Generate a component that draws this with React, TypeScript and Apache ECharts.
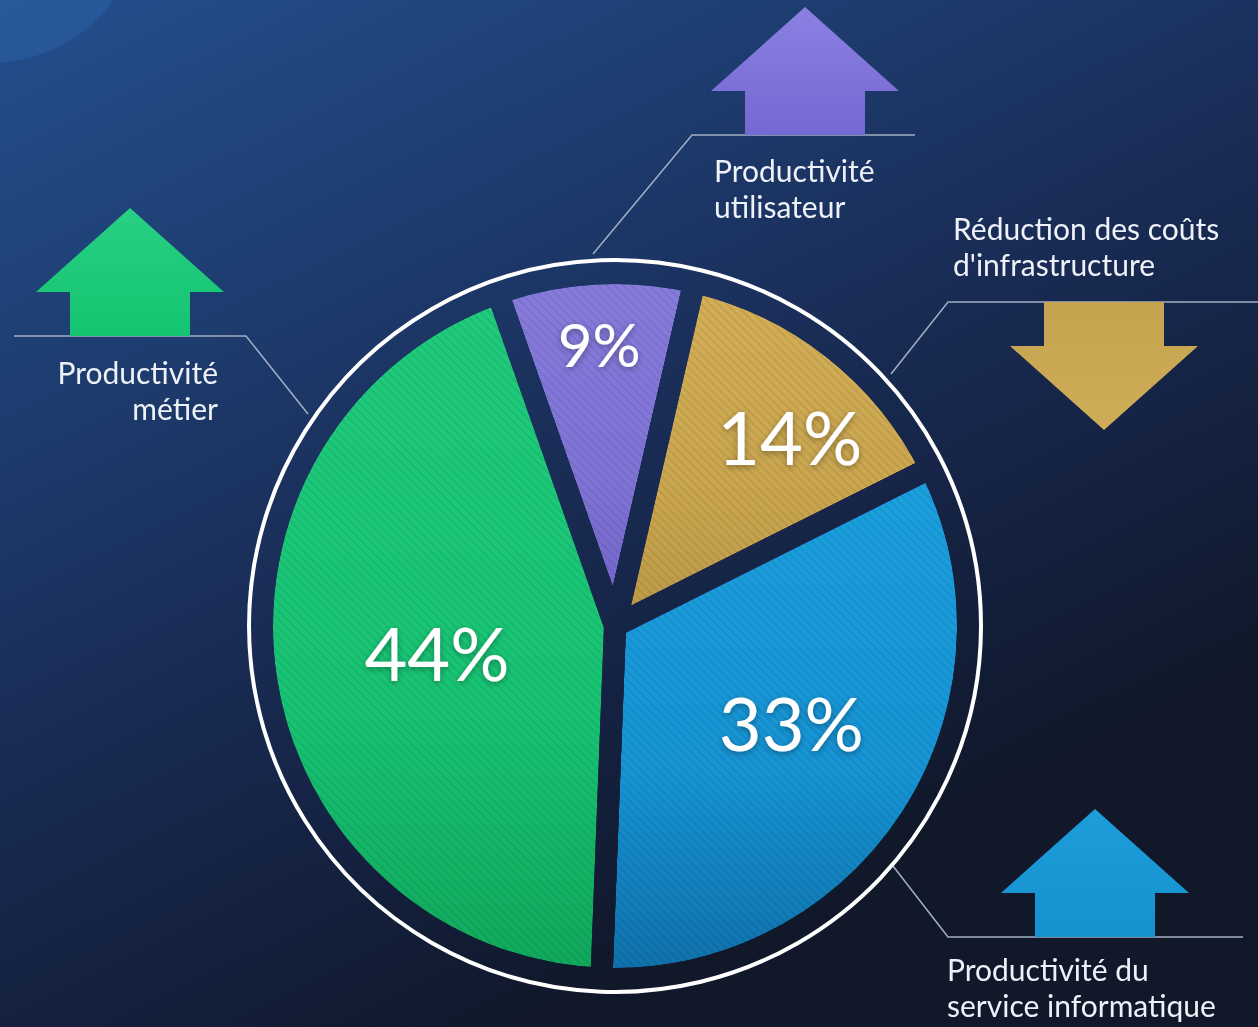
import React, { useEffect, useRef } from 'react';
import * as echarts from 'echarts';

// ---- data ----
const categories = [
  'Productivité utilisateur',
  "Réduction des coûts d'infrastructure",
  'Productivité du service informatique',
  'Productivité métier',
];
const values = [9, 14, 33, 44];
const outsideLabels = [
  'Productivité\nutilisateur',
  "Réduction des coûts\nd'infrastructure",
  'Productivité du\nservice informatique',
  'Productivité\nmétier',
];
const trends = ['up', 'down', 'up', 'up'];

// ---- layout / style ----
const W = 1258;
const H = 1027;
const CX = 615;
const CY = 626;
const R = 353;
const GAP = 22;
const START_FROM_TOP = -19.4; // degrees, clockwise from 12 o'clock
const LABEL_R = [0.8, 0.73, 0.57, 0.51];
const LABEL_ANGLE_SHIFT = [0, 4.5, -4, 0];
const LABEL_SIZE = [60, 74, 74, 74];
const sliceTop = ['#877cdc', '#d4af57', '#1ca0e0', '#20cb7d'];
const sliceMid = ['#7f73d6', '#caa64f', '#1694d4', '#18c474'];
const sliceBottom = ['#7064c8', '#bc9946', '#0f70aa', '#10a85c'];
const arrowTop = ['#8b80e2', '#cfac57', '#1d9dda', '#28d085'];
const arrowBottom = ['#7468d2', '#c6a34e', '#1592d0', '#14c46f'];
const bgStops = [
  { offset: 0, color: '#234f8e' },
  { offset: 0.35, color: '#1d3b6d' },
  { offset: 0.55, color: '#1a2e59' },
  { offset: 0.8, color: '#142140' },
  { offset: 1, color: '#10182a' },
];
const LINE_COLOR = '#a3afc5';
const TEXT_COLOR = '#eef2f8';
const FONT = 'Lato, "Noto Sans", sans-serif';
const OUT_FONT_SIZE = 30;
const OUT_LINE_H = 36;

// label block positions (decoration)
const textPos: Array<{ x: number; y: number; align: string }> = [
  { x: 714, y: 152, align: 'left' },
  { x: 953, y: 210, align: 'left' },
  { x: 947, y: 951, align: 'left' },
  { x: 218, y: 354, align: 'right' },
];
const leaderLines: number[][][] = [
  [[915, 135], [692, 135], [593, 254]],
  [[1258, 302], [948, 302], [891, 374]],
  [[1243, 937], [948, 937], [893, 866]],
  [[14, 336], [246, 336], [308, 414]],
];
// arrow: center x, y of the flat shaft end (on the leader line)
const arrowPos = [
  { cx: 805, y: 135 },
  { cx: 1104, y: 302 },
  { cx: 1095, y: 937 },
  { cx: 130, y: 336 },
];

function bgGrad() {
  return new echarts.graphic.LinearGradient(0, 0, 503, 1027, bgStops, true);
}

function arrowPoints(cx: number, y: number, dir: string) {
  const s = dir === 'up' ? -1 : 1;
  const sw = 60;
  const hw = 94;
  const shaft = 44;
  const head = 84;
  return [
    [cx - sw, y],
    [cx - sw, y + s * shaft],
    [cx - hw, y + s * shaft],
    [cx, y + s * (shaft + head)],
    [cx + hw, y + s * shaft],
    [cx + sw, y + s * shaft],
    [cx + sw, y],
  ];
}

export default function App() {
  const ref = useRef<HTMLDivElement>(null);
  useEffect(() => {
    if (!ref.current) return;
    const chart = echarts.init(ref.current, undefined, { renderer: 'svg' });
    const total = values.reduce((a, b) => a + b, 0);
    const midAngles: number[] = [];
    let acc = START_FROM_TOP;
    values.forEach((v) => {
      const span = (v / total) * 360;
      midAngles.push(acc + span / 2);
      acc += span;
    });

    const graphics: any[] = [
      {
        type: 'rect',
        z: 0,
        silent: true,
        shape: { x: 0, y: 0, width: W, height: H },
        style: { fill: bgGrad() },
      },
      {
        type: 'circle',
        z: 1,
        silent: true,
        shape: { cx: -10, cy: -90, r: 153 },
        style: { fill: 'rgba(48,110,180,0.35)' },
      },
      {
        type: 'circle',
        z: 10,
        silent: true,
        shape: { cx: CX, cy: CY, r: 366 },
        style: { fill: 'none', stroke: '#ffffff', lineWidth: 4 },
      },
    ];
    leaderLines.forEach((pts) => {
      graphics.push({
        type: 'polyline',
        z: 6,
        silent: true,
        shape: { points: pts },
        style: { stroke: LINE_COLOR, lineWidth: 1.5, fill: 'none' },
      });
    });
    arrowPos.forEach((a, i) => {
      const up = trends[i] === 'up';
      graphics.push({
        type: 'polygon',
        z: 7,
        silent: true,
        shape: { points: arrowPoints(a.cx, a.y, trends[i]) },
        style: {
          fill: new echarts.graphic.LinearGradient(0, 0, 0, 1, [
            { offset: 0, color: up ? arrowTop[i] : arrowBottom[i] },
            { offset: 1, color: up ? arrowBottom[i] : arrowTop[i] },
          ]),
        },
      });
    });
    textPos.forEach((p, i) => {
      graphics.push({
        type: 'text',
        z: 8,
        silent: true,
        x: p.x,
        y: p.y,
        style: {
          text: outsideLabels[i],
          fill: TEXT_COLOR,
          font: `${OUT_FONT_SIZE}px ${FONT}`,
          lineHeight: OUT_LINE_H,
          align: p.align,
          verticalAlign: 'top',
        },
      });
    });

    chart.setOption({
      animation: false,
      graphic: { elements: graphics },
      series: [
        {
          type: 'pie',
          z: 3,
          center: [CX, CY],
          radius: [0, R],
          startAngle: 90 - START_FROM_TOP,
          clockwise: true,
          avoidLabelOverlap: false,
          silent: true,
          emphasis: { disabled: true },
          labelLine: { show: false },
          label: {
            show: true,
            position: 'inside',
            formatter: '{c}%',
            color: '#ffffff',
            fontFamily: FONT,
            fontSize: 74,
            textShadowColor: 'rgba(0,0,0,0.35)',
            textShadowBlur: 6,
            textShadowOffsetY: 2,
          },
          labelLayout: (p: any) => {
            const i = p.dataIndex;
            const a = ((midAngles[i] + LABEL_ANGLE_SHIFT[i]) * Math.PI) / 180;
            const r = R * LABEL_R[i];
            return {
              x: CX + r * Math.sin(a),
              y: CY - r * Math.cos(a),
              align: 'center',
              verticalAlign: 'middle',
            };
          },
          itemStyle: {
            borderColor: bgGrad(),
            borderWidth: GAP,
            borderJoin: 'round',
          },
          data: values.map((v, i) => ({
            value: v,
            name: categories[i],
            label: { fontSize: LABEL_SIZE[i] },
            itemStyle: {
              color: new echarts.graphic.LinearGradient(0, 0, 0, 1, [
                { offset: 0, color: sliceTop[i] },
                { offset: 0.6, color: sliceMid[i] },
                { offset: 1, color: sliceBottom[i] },
              ]),
              decal: {
                symbol: 'rect',
                symbolSize: 1,
                dashArrayX: [1, 0],
                dashArrayY: [2, 4],
                rotation: Math.PI / 4,
                color: 'rgba(0,0,0,0.07)',
              },
            },
          })),
        },
      ],
    });
    return () => chart.dispose();
  }, []);
  return (
    <div
      ref={ref}
      style={{ position: 'fixed', left: 0, top: 0, width: W, height: H }}
    />
  );
}
